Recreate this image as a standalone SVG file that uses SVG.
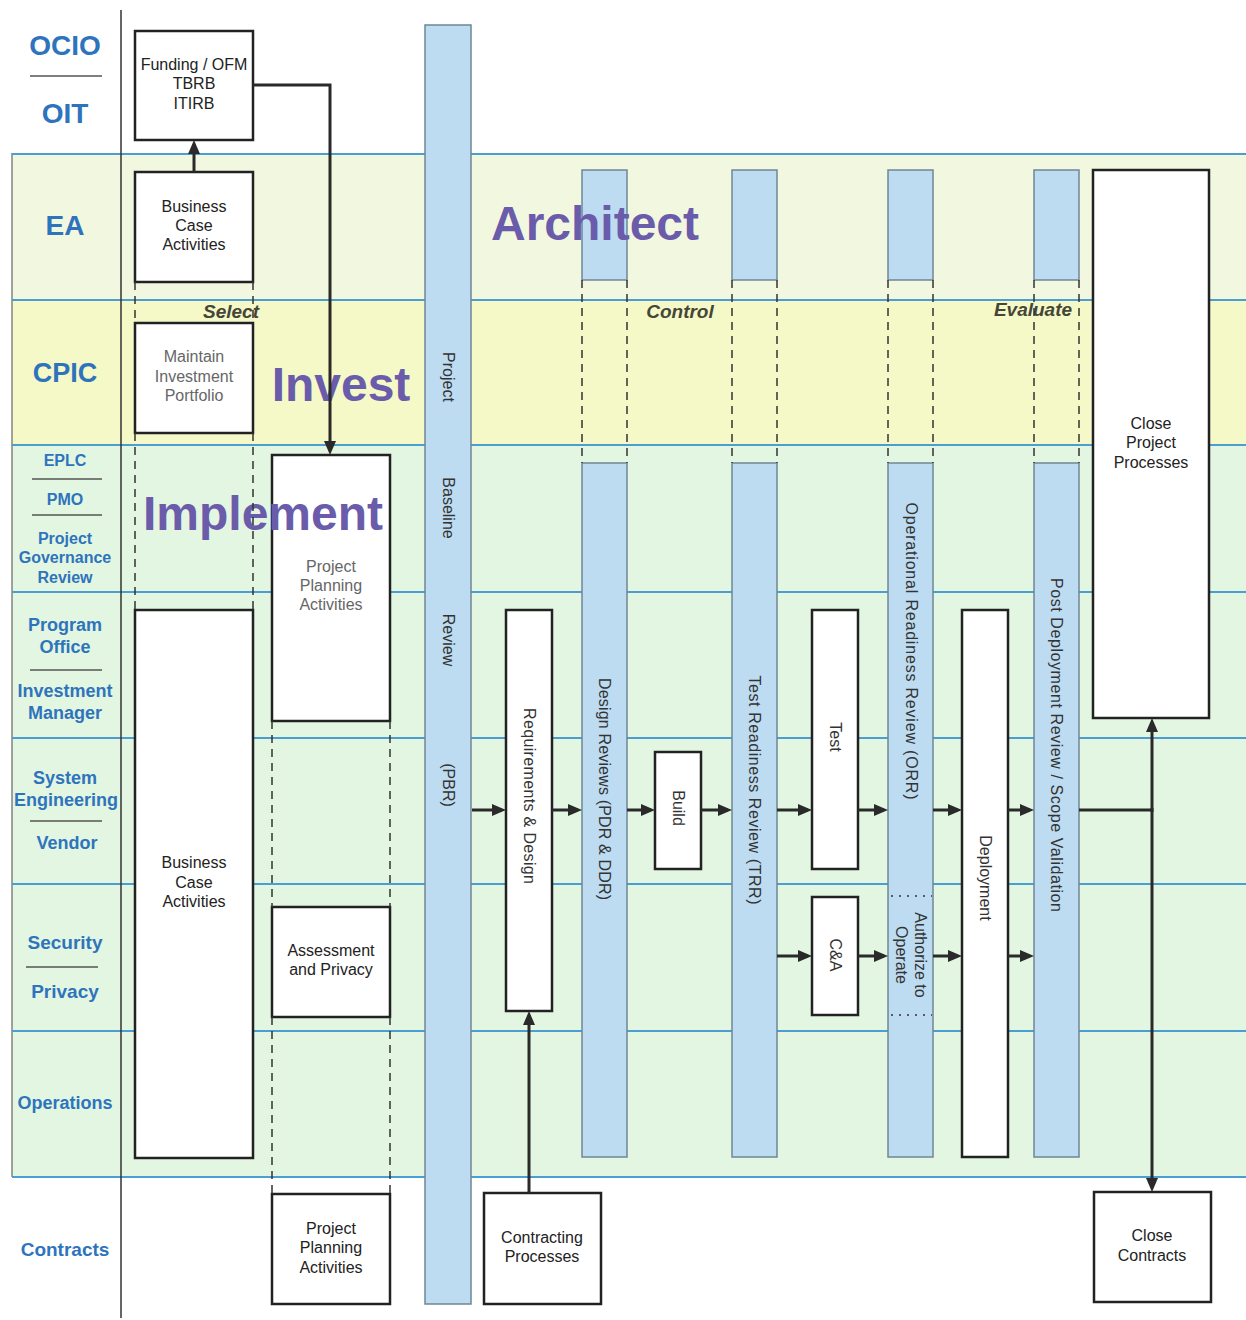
<svg xmlns="http://www.w3.org/2000/svg" width="1246" height="1320" viewBox="0 0 1246 1320">
<style>
text{font-family:"Liberation Sans",Arial,sans-serif}
.lane{font-weight:bold;fill:#2e74bd;text-anchor:middle}
.lsep{stroke:#555;stroke-width:1.5}
.lline{stroke:#4a9ed2;stroke-width:2}
.box{fill:#fff;stroke:#222;stroke-width:2.5}
.bar{fill:#bddcf1;stroke:#6f8796;stroke-width:1.5}
.bt{font-size:16px;fill:#222;text-anchor:middle}
.gt{font-size:16px;fill:#666;text-anchor:middle}
.vt{font-size:16px;fill:#333;text-anchor:middle}
.big{font-size:48px;font-weight:bold;fill:#6b5cab;text-anchor:middle}
.ph{font-size:19px;font-weight:bold;font-style:italic;fill:#464638;text-anchor:middle}
.dash{stroke:#333;stroke-width:1.5;stroke-dasharray:8 6;fill:none}
.dot{stroke:#333;stroke-width:1.5;stroke-dasharray:2 6;fill:none}
.conn{stroke:#2a2a2a;stroke-width:3;fill:none}
</style>
<defs>
<marker id="ah" viewBox="0 0 14 12" refX="10" refY="6" markerWidth="14" markerHeight="12" markerUnits="userSpaceOnUse" orient="auto">
<path d="M0,0 L14,6 L0,12 z" fill="#2a2a2a"/>
</marker>
</defs>
<rect width="1246" height="1320" fill="#fff"/>
<g id="lanes">
<rect x="12" y="153" width="1234" height="147" fill="#f2f8df"/>
<rect x="12" y="300" width="1234" height="145" fill="#f5f9c8"/>
<rect x="12" y="445" width="1234" height="732" fill="#e3f6e1"/>
<line x1="12" y1="153" x2="12" y2="1177" stroke="#666" stroke-width="1.2"/>
<g class="lline">
<line x1="12" y1="154" x2="1246" y2="154"/>
<line x1="12" y1="300" x2="1246" y2="300"/>
<line x1="12" y1="445" x2="1246" y2="445"/>
<line x1="12" y1="592" x2="1246" y2="592"/>
<line x1="12" y1="738" x2="1246" y2="738"/>
<line x1="12" y1="884" x2="1246" y2="884"/>
<line x1="12" y1="1031" x2="1246" y2="1031"/>
<line x1="12" y1="1177" x2="1246" y2="1177"/>
</g>
<line x1="121" y1="10" x2="121" y2="1318" stroke="#333" stroke-width="1.5"/>
</g>
<g id="lane-labels">
<text class="lane" x="65" y="55" font-size="28">OCIO</text>
<line class="lsep" x1="30" y1="76" x2="102" y2="76"/>
<text class="lane" x="65" y="123" font-size="28">OIT</text>
<text class="lane" x="65" y="235" font-size="28">EA</text>
<text class="lane" x="65" y="382" font-size="27">CPIC</text>
<text class="lane" x="65" y="466" font-size="16">EPLC</text>
<line class="lsep" x1="32" y1="479" x2="102" y2="479"/>
<text class="lane" x="65" y="505" font-size="16">PMO</text>
<line class="lsep" x1="32" y1="515" x2="102" y2="515"/>
<text class="lane" x="65" y="544" font-size="16">Project</text>
<text class="lane" x="65" y="563" font-size="16">Governance</text>
<text class="lane" x="65" y="583" font-size="16">Review</text>
<text class="lane" x="65" y="631" font-size="18">Program</text>
<text class="lane" x="65" y="653" font-size="18">Office</text>
<line class="lsep" x1="30" y1="670" x2="102" y2="670"/>
<text class="lane" x="65" y="697" font-size="18">Investment</text>
<text class="lane" x="65" y="719" font-size="18">Manager</text>
<text class="lane" x="65" y="784" font-size="18">System</text>
<text class="lane" x="66" y="806" font-size="18">Engineering</text>
<line class="lsep" x1="30" y1="821" x2="102" y2="821"/>
<text class="lane" x="67" y="849" font-size="18">Vendor</text>
<text class="lane" x="65" y="949" font-size="19">Security</text>
<line class="lsep" x1="26" y1="967" x2="98" y2="967"/>
<text class="lane" x="65" y="998" font-size="19">Privacy</text>
<text class="lane" x="65" y="1109" font-size="18">Operations</text>
<text class="lane" x="65" y="1256" font-size="19">Contracts</text>
</g>
<g id="pbr">
<rect class="bar" x="425" y="25" width="46" height="1279"/>
<text class="vt" transform="translate(448,377) rotate(90)" y="5.5" font-size="15">Project</text>
<text class="vt" transform="translate(448,508) rotate(90)" y="5.5" font-size="15">Baseline</text>
<text class="vt" transform="translate(448,640) rotate(90)" y="5.5" font-size="15">Review</text>
<text class="vt" transform="translate(448,785) rotate(90)" y="5.5" font-size="15">(PBR)</text>
</g>
<g id="design-reviews">
<rect class="bar" x="582" y="170" width="45" height="110"/>
<rect class="bar" x="582" y="463" width="45" height="694"/>
<text class="vt" transform="translate(604,789) rotate(90)" y="5.5" textLength="222" lengthAdjust="spacing">Design Reviews (PDR &amp; DDR)</text>
</g>
<g id="trr">
<rect class="bar" x="732" y="170" width="45" height="110"/>
<rect class="bar" x="732" y="463" width="45" height="694"/>
<text class="vt" transform="translate(754,790) rotate(90)" y="5.5" textLength="229" lengthAdjust="spacing">Test Readiness Review (TRR)</text>
</g>
<g id="orr">
<rect class="bar" x="888" y="170" width="45" height="110"/>
<rect class="bar" x="888" y="463" width="45" height="694"/>
<text class="vt" transform="translate(911,651) rotate(90)" y="5.5" textLength="297" lengthAdjust="spacing">Operational Readiness Review (ORR)</text>
<line class="dot" x1="891" y1="896" x2="932" y2="896"/>
<line class="dot" x1="891" y1="1015" x2="932" y2="1015"/>
<text class="vt" transform="translate(920,955) rotate(90)" y="5.5">Authorize to</text>
<text class="vt" transform="translate(901,955) rotate(90)" y="5.5">Operate</text>
</g>
<g id="post-deployment">
<rect class="bar" x="1034" y="170" width="45" height="110"/>
<rect class="bar" x="1034" y="463" width="45" height="694"/>
<text class="vt" transform="translate(1056,745) rotate(90)" y="5.5" textLength="334" lengthAdjust="spacing">Post Deployment Review / Scope Validation</text>
</g>
<g id="funding">
<rect class="box" x="135" y="31" width="118" height="109"/>
<text class="bt" x="194" y="70">Funding / OFM</text>
<text class="bt" x="194" y="89">TBRB</text>
<text class="bt" x="194" y="109">ITIRB</text>
</g>
<g id="bca-ea">
<rect class="box" x="135" y="172" width="118" height="110"/>
<text class="bt" x="194" y="212">Business</text>
<text class="bt" x="194" y="231">Case</text>
<text class="bt" x="194" y="250">Activities</text>
</g>
<g id="maintain">
<rect class="box" x="135" y="323" width="118" height="110"/>
<text class="gt" x="194" y="362">Maintain</text>
<text class="gt" x="194" y="382">Investment</text>
<text class="gt" x="194" y="401">Portfolio</text>
</g>
<g id="bca-big">
<rect class="box" x="135" y="610" width="118" height="548"/>
<text class="bt" x="194" y="868">Business</text>
<text class="bt" x="194" y="888">Case</text>
<text class="bt" x="194" y="907">Activities</text>
</g>
<g id="ppa">
<rect class="box" x="272" y="455" width="118" height="266"/>
<text class="gt" x="331" y="572">Project</text>
<text class="gt" x="331" y="591">Planning</text>
<text class="gt" x="331" y="610">Activities</text>
</g>
<g id="assessment">
<rect class="box" x="272" y="907" width="118" height="110"/>
<text class="bt" x="331" y="956">Assessment</text>
<text class="bt" x="331" y="975">and Privacy</text>
</g>
<g id="ppa-contracts">
<rect class="box" x="272" y="1194" width="118" height="110"/>
<text class="bt" x="331" y="1234">Project</text>
<text class="bt" x="331" y="1253">Planning</text>
<text class="bt" x="331" y="1273">Activities</text>
</g>
<g id="req-design">
<rect class="box" x="506" y="610" width="46" height="401"/>
<text class="vt" transform="translate(529,796) rotate(90)" y="5.5" textLength="176" lengthAdjust="spacing">Requirements  &amp; Design</text>
</g>
<g id="build">
<rect class="box" x="655" y="752" width="46" height="117"/>
<text class="vt" transform="translate(678,808) rotate(90)" y="5.5">Build</text>
</g>
<g id="test">
<rect class="box" x="812" y="610" width="46" height="259"/>
<text class="vt" transform="translate(835,737) rotate(90)" y="5.5">Test</text>
</g>
<g id="ca">
<rect class="box" x="812" y="897" width="46" height="118"/>
<text class="vt" transform="translate(835,955) rotate(90)" y="5.5">C&amp;A</text>
</g>
<g id="deployment">
<rect class="box" x="962" y="610" width="46" height="547"/>
<text class="vt" transform="translate(985,878) rotate(90)" y="5.5">Deployment</text>
</g>
<g id="close-project">
<rect class="box" x="1093" y="170" width="116" height="548"/>
<text class="bt" x="1151" y="429">Close</text>
<text class="bt" x="1151" y="448">Project</text>
<text class="bt" x="1151" y="468">Processes</text>
</g>
<g id="contracting">
<rect class="box" x="484" y="1193" width="117" height="111"/>
<text class="bt" x="542" y="1243">Contracting</text>
<text class="bt" x="542" y="1262">Processes</text>
</g>
<g id="close-contracts">
<rect class="box" x="1094" y="1192" width="117" height="110"/>
<text class="bt" x="1152" y="1241">Close</text>
<text class="bt" x="1152" y="1261">Contracts</text>
</g>
<g id="phases">
<text class="big" x="341" y="401">Invest</text>
<text class="big" x="263" y="530">Implement</text>
<text class="big" x="595" y="240">Architect</text>
<text class="ph" x="231" y="318">Select</text>
<text class="ph" x="680" y="318">Control</text>
<text class="ph" x="1033" y="316">Evaluate</text>
</g>
<g id="guides">
<path class="dash" d="M135,282 V323 M253,282 V323 M135,433 V610 M253,433 V610"/>
<path class="dash" d="M272,721 V907 M390,721 V907 M272,1017 V1194 M390,1017 V1194"/>
<path class="dash" d="M582,280 V463 M627,280 V463 M732,280 V463 M777,280 V463 M888,280 V463 M933,280 V463 M1034,280 V463 M1079,280 V463"/>
</g>
<g id="connectors">
<path class="conn" marker-end="url(#ah)" d="M194,172 V144"/>
<path class="conn" marker-end="url(#ah)" d="M253,85 H330 V451"/>
<path class="conn" marker-end="url(#ah)" d="M472,810 H502"/>
<path class="conn" marker-end="url(#ah)" d="M552,810 H578"/>
<path class="conn" marker-end="url(#ah)" d="M627,810 H651"/>
<path class="conn" marker-end="url(#ah)" d="M701,810 H728"/>
<path class="conn" marker-end="url(#ah)" d="M777,810 H808"/>
<path class="conn" marker-end="url(#ah)" d="M858,810 H884"/>
<path class="conn" marker-end="url(#ah)" d="M933,810 H958"/>
<path class="conn" marker-end="url(#ah)" d="M1008,810 H1030"/>
<path class="conn" marker-end="url(#ah)" d="M777,956 H808"/>
<path class="conn" marker-end="url(#ah)" d="M858,956 H884"/>
<path class="conn" marker-end="url(#ah)" d="M933,956 H958"/>
<path class="conn" marker-end="url(#ah)" d="M1008,956 H1030"/>
<path class="conn" d="M1079,810 H1152"/>
<path class="conn" marker-end="url(#ah)" d="M1152,812 V722"/>
<path class="conn" marker-end="url(#ah)" d="M1152,808 V1188"/>
<path class="conn" marker-end="url(#ah)" d="M529,1193 V1015"/>
</g>
</svg>
